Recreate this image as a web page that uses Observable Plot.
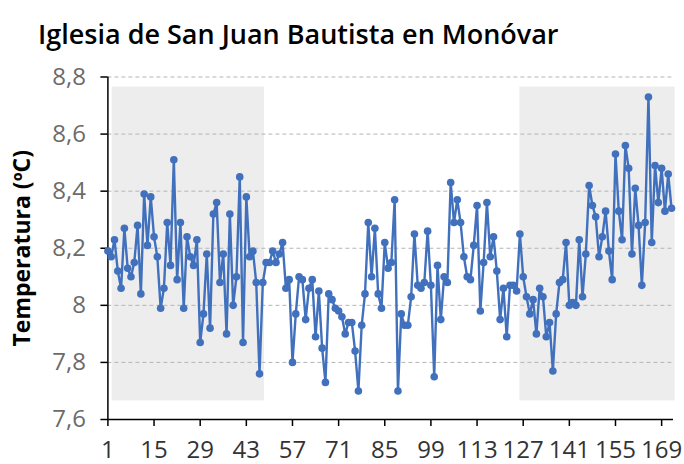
<!DOCTYPE html>
<html><head><meta charset="utf-8">
<script src="https://cdn.jsdelivr.net/npm/d3@7"></script>
<script src="https://cdn.jsdelivr.net/npm/@observablehq/plot@0.6"></script>
<style>
body{margin:0;background:#fff;}
#title{height:60px;box-sizing:border-box;padding-left:38px;padding-top:16px;font-family:"Open Sans";font-weight:600;font-size:27px;line-height:36px;color:#000;white-space:nowrap;}
</style></head><body>
<div id="title">Iglesia de San Juan Bautista en Monóvar</div>
<div id="chart"></div>
<script>
const values = [
8.19, 8.17, 8.23, 8.12, 8.06, 8.27, 8.13, 8.10, 8.15, 8.28,
8.04, 8.39, 8.21, 8.38, 8.24, 8.17, 7.99, 8.06, 8.29, 8.14,
8.51, 8.09, 8.29, 7.99, 8.24, 8.17, 8.14, 8.23, 7.87, 7.97,
8.18, 7.92, 8.32, 8.36, 8.08, 8.18, 7.90, 8.32, 8.00, 8.10,
8.45, 7.87, 8.38, 8.17, 8.19, 8.08, 7.76, 8.08, 8.15, 8.15,
8.19, 8.15, 8.18, 8.22, 8.06, 8.09, 7.80, 7.97, 8.10, 8.09,
7.95, 8.06, 8.09, 7.89, 8.05, 7.85, 7.73, 8.04, 8.02, 7.99,
7.98, 7.96, 7.90, 7.94, 7.94, 7.84, 7.70, 7.93, 8.04, 8.29,
8.10, 8.27, 8.04, 7.99, 8.22, 8.13, 8.15, 8.37, 7.70, 7.97,
7.93, 7.93, 8.03, 8.25, 8.07, 8.06, 8.08, 8.26, 8.07, 7.75,
8.14, 7.95, 8.10, 8.08, 8.43, 8.29, 8.37, 8.29, 8.17, 8.10,
8.09, 8.21, 8.35, 7.98, 8.15, 8.36, 8.17, 8.24, 8.12, 7.95,
8.06, 7.89, 8.07, 8.07, 8.05, 8.25, 8.10, 8.03, 7.97, 8.02,
7.90, 8.06, 8.03, 7.89, 7.94, 7.77, 7.97, 8.08, 8.09, 8.22,
8.00, 8.01, 8.00, 8.23, 8.03, 8.18, 8.42, 8.35, 8.31, 8.17,
8.24, 8.33, 8.19, 8.09, 8.53, 8.33, 8.23, 8.56, 8.48, 8.18,
8.41, 8.28, 8.07, 8.29, 8.73, 8.22, 8.49, 8.36, 8.48, 8.33,
8.46, 8.34
];
const xTicks = [1, 15, 29, 43, 57, 71, 85, 99, 113, 127, 141, 155, 169];
const yTicks = [7.6, 7.8, 8.0, 8.2, 8.4, 8.6, 8.8];
const gridValues = [7.8, 8.0, 8.2, 8.4, 8.6, 8.8];
const shadeStart = [2.3, 126];
const shadeEnd = [48.5, 173.1];
const shadeBottom = [7.665, 7.665];
const shadeTop = [8.765, 8.765];
const xStart = 1, xEnd = 172.6;
const yLabel = "Temperatura (ºC)";

const data = values.map((v, i) => ({x: i + 1, y: v}));
const shades = shadeStart.map((s, i) => ({x1: s, x2: shadeEnd[i], y1: shadeBottom[i], y2: shadeTop[i]}));
const fmt = d => String(Math.round(d * 10) / 10).replace(".", ",");
const blue = "#4170BD";

const chart = Plot.plot({
  width: 684, height: 404,
  marginLeft: 107.4, marginRight: 11, marginTop: 16.5, marginBottom: 45,
  style: {fontFamily: "Open Sans", background: "#fff", overflow: "visible"},
  x: {domain: [xStart, xEnd], axis: null},
  y: {domain: [7.6, 8.8], axis: null},
  marks: [
    Plot.rect(shades, {x1: "x1", x2: "x2", y1: "y1", y2: "y2", fill: "#ededed"}),
    Plot.ruleY(gridValues, {x1: xStart, x2: xEnd, stroke: "#b5b5b5", strokeDasharray: "4,3", strokeWidth: 1}),
    Plot.axisY(yTicks, {anchor: "left", tickSize: 7, tickPadding: 15, tickFormat: fmt, fontSize: 24, fill: "#6b6b6b", stroke: "#000", strokeWidth: 1.5, label: null}),
    Plot.axisX(xTicks, {anchor: "bottom", tickSize: 7, tickPadding: 14, tickFormat: d => String(d), fontSize: 24, fill: "#333", stroke: "#000", strokeWidth: 1.5, label: null}),
    Plot.ruleX([xStart], {y1: 7.6, y2: 8.8, stroke: "#000", strokeWidth: 1.5}),
    Plot.ruleY([7.6], {x1: xStart, x2: xEnd, stroke: "#000", strokeWidth: 1.5}),
    Plot.line(data, {x: "x", y: "y", stroke: blue, strokeWidth: 2.4}),
    Plot.dot(data, {x: "x", y: "y", r: 3.8, fill: blue, stroke: "none"}),
    Plot.text([yLabel], {frameAnchor: "left", textAnchor: "middle", dx: -85, rotate: -90, fontWeight: 700, fontSize: 23, fill: "#000"})
  ]
});
document.getElementById("chart").appendChild(chart);
</script>
</body></html>
